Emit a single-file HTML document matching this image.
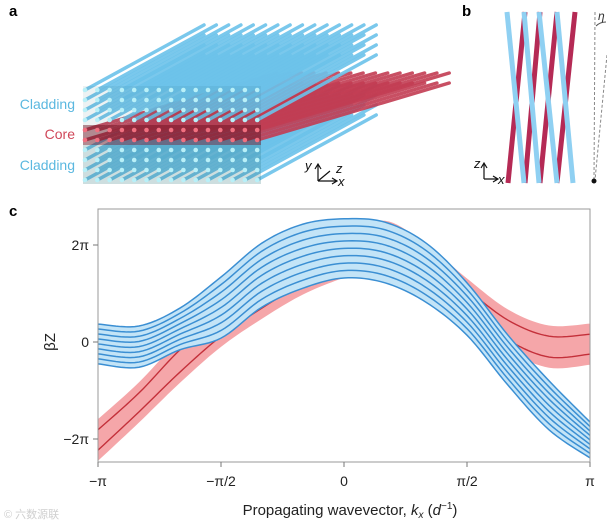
<!DOCTYPE html>
<html><head><meta charset="utf-8">
<style>
html,body{margin:0;padding:0;background:#fff;}
body{width:607px;height:525px;overflow:hidden;font-family:"Liberation Sans",Arial,sans-serif;}
svg text{font-family:"Liberation Sans",Arial,sans-serif;}
</style></head>
<body>
<svg id="fig" width="607" height="525" viewBox="0 0 607 525" xmlns="http://www.w3.org/2000/svg">
  <g id="panelA"></g>
  <g id="panelB"></g>
  <g id="panelC"></g>
  <text x="9" y="16" font-size="15" font-weight="bold">a</text>
  <text x="462" y="16" font-size="15" font-weight="bold">b</text>
  <text x="9" y="216" font-size="15" font-weight="bold">c</text>
  <text x="75" y="109" font-size="14" fill="#5bb8e0" text-anchor="end">Cladding</text>
  <text x="75" y="139" font-size="14" fill="#d0485a" text-anchor="end">Core</text>
  <text x="75" y="170" font-size="14" fill="#5bb8e0" text-anchor="end">Cladding</text>
</svg>
<script>
// ---------- Chart data (panel c), values in units of pi ----------
const kTicks = [-1, -0.5, 0, 0.5, 1];
const kTickLabels = ["\u2212\u03c0", "\u2212\u03c0/2", "0", "\u03c0/2", "\u03c0"];
const yTicks = [-2, 0, 2];
const yTickLabels = ["\u22122\u03c0", "0", "2\u03c0"];
const kSamples = [-1, -5/6, -2/3, -1/2, -1/3, -1/6, 0, 1/6, 1/3, 1/2, 2/3, 5/6, 1];
const blueTop = [0.37, 0.33, 0.70, 1.34, 2.04, 2.43, 2.54, 2.47, 2.04, 1.22, 0.14, -0.80, -1.65];
const blueBottom = [-0.45, -0.52, -0.16, 0.08, 0.72, 1.11, 1.32, 1.22, 0.82, 0.14, -0.89, -1.81, -2.39];
const redUpper = [-1.81, -1.05, -0.16, 0.55, 1.15, 1.65, 1.98, 2.28, 1.79, 1.09, 0.45, 0.12, 0.16];
const redLower = [-2.23, -1.44, -0.62, 0.12, 0.70, 1.20, 1.55, 1.86, 1.38, 0.68, 0.04, -0.31, -0.25];
const blueLineCount = 9;
const redBandPad = 0.22;

const NS = "http://www.w3.org/2000/svg";
function mk(tag, attrs, parent){const e=document.createElementNS(NS,tag);for(const k in attrs)e.setAttribute(k,attrs[k]);if(parent)parent.appendChild(e);return e;}

const X0=98, X1=590, YT=209, YB=462;
const yZero=342, yPerPi=48.5;
function xScale(k){return X0+(k+1)/2*(X1-X0);}
function yScale(v){return yZero-v*yPerPi;}

function interp(arr,t){
  const n=arr.length; let i=Math.floor(t); if(i>=n-1)i=n-2; if(i<0)i=0;
  const u=t-i; const p0=arr[Math.max(i-1,0)],p1=arr[i],p2=arr[i+1],p3=arr[Math.min(i+2,n-1)];
  return 0.5*((2*p1)+(-p0+p2)*u+(2*p0-5*p1+4*p2-p3)*u*u+(-p0+3*p1-3*p2+p3)*u*u*u);
}
function kAt(t){return interp(kSamples,t);}
function curvePts(fn){const pts=[];const n=kSamples.length-1;for(let s=0;s<=120;s++){const t=s/120*n;pts.push([xScale(kAt(t)),yScale(fn(t))]);}return pts;}
function pathOf(pts){return pts.map((p,i)=>(i?'L':'M')+p[0].toFixed(2)+' '+p[1].toFixed(2)).join(' ');}

const C=document.getElementById('panelC');
mk('clipPath',{id:'plotclip'},C).appendChild(mk('rect',{x:X0,y:YT,width:X1-X0,height:YB-YT}));
const plot=mk('g',{'clip-path':'url(#plotclip)'},C);

const rTop=curvePts(t=>interp(redUpper,t)+redBandPad);
const rBot=curvePts(t=>interp(redLower,t)-redBandPad).reverse();
const redBand=mk('path',{d:pathOf(rTop)+' '+pathOf(rBot).replace('M','L')+' Z',fill:'#f5a6a9'},plot);


[redUpper,redLower].forEach((arr,i)=>{
  const p=mk('path',{d:pathOf(curvePts(t=>interp(arr,t))),fill:'none',stroke:'#c4303a','stroke-width':1.4},plot);
  
  
});
const bTop=curvePts(t=>interp(blueTop,t));
const bBot=curvePts(t=>interp(blueBottom,t)).reverse();
const blueBand=mk('path',{d:pathOf(bTop)+' '+pathOf(bBot).replace('M','L')+' Z',fill:'#c3e4f7'},plot);


for(let j=0;j<blueLineCount;j++){
  const f=j/(blueLineCount-1);
  const p=mk('path',{d:pathOf(curvePts(t=>interp(blueTop,t)*(1-f)+interp(blueBottom,t)*f)),fill:'none',stroke:'#3b8fd3','stroke-width':1.5},plot);
  
  
}
const frame=mk('rect',{x:X0,y:YT,width:X1-X0,height:YB-YT,fill:'none',stroke:'#9a9a9a','stroke-width':1},C);


kTicks.forEach((k,i)=>{
  const x=xScale(k);
  const tk=mk('line',{x1:x,y1:YB,x2:x,y2:YB+5,stroke:'#777'},C);
  
  
  const tx=mk('text',{x:x,y:YB+24,'font-size':14,'text-anchor':'middle',fill:'#222'},C);
  tx.textContent=kTickLabels[i];
  
  
});
yTicks.forEach((v,i)=>{
  const y=yScale(v);
  const tk=mk('line',{x1:X0-5,y1:y,x2:X0,y2:y,stroke:'#777'},C);
  
  
  const tx=mk('text',{x:X0-9,y:y+5,'font-size':14,'text-anchor':'end',fill:'#222'},C);
  tx.textContent=yTickLabels[i];
  
  
});
const yt=mk('text',{x:0,y:0,'font-size':15,'text-anchor':'middle',fill:'#222',transform:'translate(55,342) rotate(-90)'},C);
yt.textContent='\u03b2Z';


const xt=mk('text',{x:350,y:515,'font-size':15,'text-anchor':'middle',fill:'#222'},C);
xt.innerHTML='Propagating wavevector, <tspan font-style="italic">k</tspan><tspan font-size="10" dy="3" font-style="italic">x</tspan><tspan dy="-3"> (</tspan><tspan font-style="italic">d</tspan><tspan font-size="10" dy="-6">\u22121</tspan><tspan dy="6">)</tspan>';


const wm=mk('text',{x:4,y:518,'font-size':11,fill:'#cfcfcf'},C);
wm.setAttribute('style','font-family:"Liberation Sans","Noto Sans CJK SC",sans-serif');
wm.textContent='\u00a9 六数源联';



// ---------- Panel a ----------
const A=document.getElementById('panelA');
const cols=15, rows=10;
for(let r=rows-1;r>=0;r--){
  const isCore=(r===4||r===5);
  const y=90+r*10;
  for(let c=cols-1;c>=0;c--){
    const x=85+c*12.3;
    const dx=isCore?192:119, dy=isCore?-57:-65;
    const ln=mk('line',{x1:x,y1:y,x2:x+dx,y2:y+dy,stroke:isCore?'#c23c52':'#6cc2ea','stroke-width':3.5,'stroke-linecap':'round','stroke-opacity':0.9},A);
    
    
  }
}
const shade=mk('rect',{x:83,y:86,width:178,height:98,fill:'#1a5a6a','fill-opacity':0.08},A);


const lowShade=mk('rect',{x:83,y:145,width:178,height:39,fill:'#1a6a70','fill-opacity':0.15},A);


const coreShade=mk('rect',{x:83,y:125,width:178,height:20,fill:'#6a0a1a','fill-opacity':0.45},A);


for(let r=0;r<rows;r++){
  const isCore=(r===4||r===5);
  for(let c=0;c<cols;c++){
    const d=mk('circle',{cx:85+c*12.3,cy:90+r*10,r:2.3,fill:isCore?'#f07080':'#b8f0f8'},A);
    
    
  }
}
const ax=mk('g',{stroke:'#111','stroke-width':1.2,fill:'none'},A);


mk('path',{d:'M318 181 L318 165 M315 169 L318 164 L321 169 M318 181 L336 181 M332 178 L337 181 L332 184 M318 181 L330 171'},ax);
const axl=mk('g',{'font-size':13,'font-style':'italic',fill:'#111'},A);
mk('text',{x:305,y:170},axl).textContent='y';
mk('text',{x:336,y:173},axl).textContent='z';
mk('text',{x:338,y:186},axl).textContent='x';

// ---------- Panel b ----------
const B=document.getElementById('panelB');
const redTops=[525,540,557,575], redBots=[508,525,540,557];
const blueTops=[507,524,539,557], blueBots=[524,539,557,573];
redTops.forEach((t,i)=>{
  const l=mk('line',{x1:t,y1:12,x2:redBots[i],y2:183,stroke:'#b52a55','stroke-width':5},B);
  
  
});
blueTops.forEach((t,i)=>{
  const l=mk('line',{x1:t,y1:12,x2:blueBots[i],y2:183,stroke:'#8fd0f2','stroke-width':5},B);
  
  
});
const d1=mk('line',{x1:595,y1:12,x2:594,y2:180,stroke:'#888','stroke-dasharray':'3 2'},B);


const d2=mk('line',{x1:607,y1:55,x2:595,y2:180,stroke:'#888','stroke-dasharray':'3 2'},B);


mk('circle',{cx:594,cy:181,r:2.5,fill:'#111'},B);
mk('path',{d:'M596 26 Q600 22 606 22',fill:'none',stroke:'#555'},B);
const eta=mk('text',{x:598,y:20,'font-size':12,'font-style':'italic',fill:'#333'},B);
eta.textContent='\u03b7';


const bx=mk('g',{stroke:'#111','stroke-width':1.2,fill:'none'},B);


mk('path',{d:'M484 179 L484 164 M481 168 L484 163 L487 168 M484 179 L497 179 M493 176 L498 179 L493 182'},bx);
const bl=mk('g',{'font-size':13,'font-style':'italic',fill:'#111'},B);
mk('text',{x:474,y:168},bl).textContent='z';
mk('text',{x:498,y:184},bl).textContent='x';
</script>
</body></html>
